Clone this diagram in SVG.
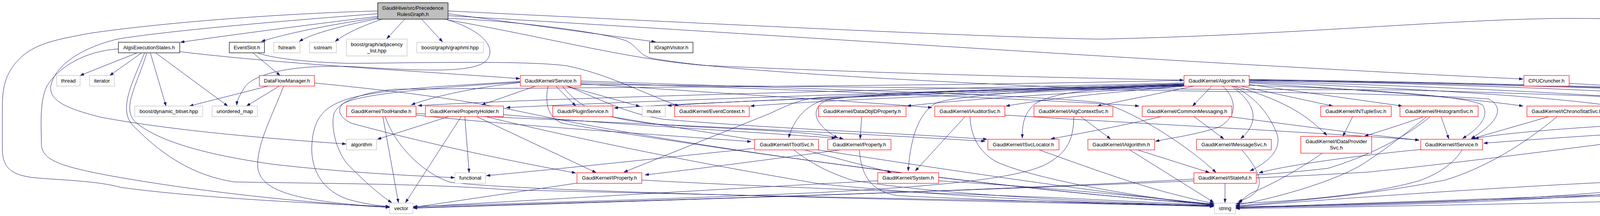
<svg xmlns="http://www.w3.org/2000/svg" width="5408" height="552" viewBox="0 0 5408 552">
<defs>
<marker id="a" viewBox="0 0 10 7" markerWidth="10" markerHeight="7" refX="10" refY="3.5" orient="auto" markerUnits="userSpaceOnUse"><path d="M0,0 L10,3.5 L0,7 z" fill="#191970" stroke="#191970" stroke-width="0.5"/></marker>
</defs>
<style>
.node rect{fill:#ffffff;stroke-width:1.2}
.r rect{stroke:#ff0000}
.g rect{stroke:#bfbfbf}
.k rect{stroke:#000000}
.m rect{fill:#bfbfbf;stroke:#000000}
text{font-family:"Liberation Sans",Arial,Helvetica,sans-serif;font-size:13.2px;text-anchor:middle;fill:#000000}
#edges path{fill:none;stroke:#191970;stroke-width:1;marker-end:url(#a)}
</style>
<rect x="0" y="0" width="5408" height="552" fill="#ffffff"/>
<g id="edges">
<path d="M967,42 C800,62 600,88 462,108"/>
<path d="M968,45 C880,58 750,80 669,106"/>
<path d="M970,47 C880,65 800,85 766,106"/>
<path d="M978,49 C930,65 885,85 858,106"/>
<path d="M1036,49 L990,99"/>
<path d="M1079,49 L1133,107"/>
<path d="M1147,35 L1678,107"/>
<path d="M1140,49 C1230,75 1275,120 1245,155 C1215,185 1100,183 900,170 C760,165 650,185 625,225 C613,245 607,255 606,269"/>
<path d="M967,35 C700,55 420,80 300,100 C200,125 140,170 130,220 C125,260 180,280 260,300 C450,335 700,355 886,368"/>
<path d="M967,28 C700,35 400,60 230,85 C150,100 90,110 50,150 C10,190 6,230 6,280 L6,385 C8,430 30,447 86,454 C150,460 250,462 310,479 C500,505 800,520 997,528"/>
<path d="M350,135.5 L205,193"/>
<path d="M362,135.5 L281,193"/>
<path d="M385,135.5 L425,271"/>
<path d="M399,135.5 L583,271"/>
<path d="M460,132 C650,155 900,172 1100,185 C1200,192 1280,197 1331,201"/>
<path d="M376,135.5 C345,230 310,280 350,315 C420,370 560,400 700,420 C850,437 1000,447 1164,454"/>
<path d="M303,125 C220,130 150,170 120,220 C100,260 106,330 106,370 C108,410 160,425 260,445 C500,490 800,520 997,530"/>
<path d="M370,135.5 C330,230 300,290 350,330 C420,400 500,450 600,465 C900,470 1100,470 1300,485 C1900,500 2700,515 3108,525"/>
<path d="M648,135.5 L717,193"/>
<path d="M660,135.5 C700,150 800,160 900,162 C1100,160 1350,155 1450,168 C1560,190 1650,240 1738,271"/>
<path d="M686,220 L485,271"/>
<path d="M715,220 L631,271"/>
<path d="M726,220 C700,290 655,370 660,430 C670,490 760,515 997,530"/>
<path d="M805,212 C1000,232 1160,248 1380,295 C1800,385 2700,500 3107,521"/>
<path d="M980,297.5 L1020,518"/>
<path d="M986,297.5 C1010,370 1080,440 1150,465 C1300,490 2500,515 3107,527"/>
<path d="M1065,294 C1300,320 1700,345 1923,362"/>
<path d="M1065,290 C1500,310 2100,335 2522,361"/>
<path d="M1150,297.5 L966,356"/>
<path d="M1181,297.5 L1038,518"/>
<path d="M1190,297.5 L1201,441"/>
<path d="M1219,297.5 L1526,441"/>
<path d="M1241,297.5 C1500,360 1800,420 2100,470 C2500,510 2900,522 3107,527"/>
<path d="M1289,293 C1600,320 1900,335 2139,353"/>
<path d="M1332,211 C1200,225 1100,250 1053,268"/>
<path d="M1371,220 L1233,268"/>
<path d="M1423,220 L1474,271"/>
<path d="M1451,220 L1638,272"/>
<path d="M1332,210 C1100,225 920,240 878,265 C862,280 868,300 900,315 C1100,370 1350,420 1474,442"/>
<path d="M1332,208 C1150,220 1000,225 900,250 C830,270 800,300 798,380 C798,440 830,490 893,510 C930,520 960,525 997,528"/>
<path d="M1451,220 C1530,250 1600,290 1700,305 C2000,330 2300,340 2527,356"/>
<path d="M1487,214 C1800,235 2200,260 2386,275"/>
<path d="M1487,211 C2000,228 2600,250 2916,271"/>
<path d="M1440,220 C1500,300 1600,315 1800,325 C2000,335 2100,340 2159,355"/>
<path d="M1403,220 C1395,260 1400,300 1440,315 C1700,360 2500,480 3107,523"/>
<path d="M1487,207 C2000,225 2600,240 2815,262 C2900,280 3050,380 3113,441"/>
<path d="M1487,216 C2500,225 3600,235 3812,253 C3850,275 3840,310 3766,354"/>
<path d="M1560,297.5 C2000,370 2700,480 3107,524"/>
<path d="M2206,297.5 L2202,355"/>
<path d="M2471,297.5 L2343,437"/>
<path d="M2483,297.5 C2485,340 2500,385 2550,413 C2650,460 2950,510 3107,523"/>
<path d="M2572,294 C2900,315 3400,340 3633,358"/>
<path d="M2766,297.5 L2843,355"/>
<path d="M2749,297.5 C2748,360 2730,390 2683,417 C2600,465 2300,480 2100,492 C1700,510 1300,520 1058,528"/>
<path d="M3056,297.5 L3133,355"/>
<path d="M2975,297.5 C2900,315 2800,335 2690,355"/>
<path d="M3142,297.5 C3300,318 3500,345 3633,358"/>
<path d="M3463,297.5 L3438,348"/>
<path d="M3689,297.5 L3709,355"/>
<path d="M3646,297.5 C3600,315 3550,330 3493,348"/>
<path d="M3653,297.5 C3600,340 3550,380 3483,423 C3400,470 3250,510 3164,524"/>
<path d="M3662,297.5 C3600,350 3500,400 3400,430 C3000,480 1500,515 1058,531"/>
<path d="M3967,297.5 L3767,355"/>
<path d="M3987,297.5 C3900,370 3800,430 3700,460 C3500,500 3300,515 3164,526"/>
<path d="M4612,296 C4300,310 3900,330 3775,354"/>
<path d="M4638,297.5 C4400,330 3800,410 3500,440 C2800,480 1600,515 1058,532"/>
<path d="M4694,297.5 C4650,340 4550,400 4450,440 C4200,510 3500,525 3164,528"/>
<path d="M4929,297.5 L4953,355"/>
<path d="M4832,296 C4500,320 4000,350 3798,366"/>
<path d="M4902,297.5 C4800,360 4650,420 4450,460 C4100,515 3500,527 3164,530"/>
<path d="M3637,382 C3500,395 3300,420 3223,442"/>
<path d="M3743,383 C3720,420 3680,445 3633,462 C3500,500 3300,515 3164,520"/>
<path d="M2660,383 C2750,415 2900,470 3000,495 C3050,508 3080,515 3108,520"/>
<path d="M2059,383 L2282,441"/>
<path d="M2032,383 C2080,420 2120,440 2180,460 C2400,500 2900,520 3107,526"/>
<path d="M1932,379 C1700,403 1450,430 1245,449"/>
<path d="M2151,383 C1950,410 1800,430 1651,447"/>
<path d="M2200,383 C2205,450 2230,490 2300,500 C2600,515 2900,522 3107,528"/>
<path d="M1477,468 L1058,530"/>
<path d="M1643,460 C1800,470 2300,490 2700,505 C2900,515 3000,520 3107,524"/>
<path d="M2403,462 C2700,480 2950,505 3107,522"/>
<path d="M2247,462 C1900,480 1400,510 1058,529"/>
<path d="M2912,383 L3096,441"/>
<path d="M2892,383 L3107,517"/>
<path d="M3179,383 C3220,430 3235,465 3215,490 C3200,505 3185,510 3170,515"/>
<path d="M3385,391.5 C3330,430 3260,470 3210,490 C3190,500 3180,510 3171,521"/>
<path d="M3136,468 L3136,518"/>
<path d="M4156,464 C3800,480 3400,510 3164,528"/>
<path d="M4927,466 C4500,485 3600,515 3164,531"/>
<path d="M5192,468 C4800,480 3800,510 3164,532"/>
<path d="M4017,213 C4300,230 4900,255 5051,269 C5110,300 5150,360 5140,430 C5120,480 5050,482 4500,505 C4000,520 3400,530 3164,533"/>
<path d="M1147,40 C2000,90 3000,160 3899,202"/>
<path d="M1147,28 C1600,50 2500,95 2815,100 C3300,90 3700,50 4000,47 C4300,46 4500,72 4690,102 C4800,130 4950,200 5010,260 C5040,290 5030,320 4985,353"/>
<path d="M1147,51 C1400,95 1600,150 1800,167 C2300,190 2800,200 3030,205"/>
<path d="M1147,47 C1300,52 1530,80 1600,103 C1630,115 1635,140 1665,148 C1800,175 2200,200 2700,222 C3000,230 3200,228 3600,230 C4000,242 4250,250 4312,260 C4360,275 4362,320 4345,370 C4330,400 4305,420 4280,441"/>
<path d="M3057,220 L2809,271"/>
<path d="M3102,220 L3053,271"/>
<path d="M3131,220 C3170,260 3165,300 3120,325 C3060,345 3000,352 2958,361"/>
<path d="M3153,220 C3200,255 3215,285 3205,315 C3200,330 3190,343 3176,354"/>
<path d="M3156,220 C3210,245 3250,290 3270,345 C3280,385 3245,415 3200,437"/>
<path d="M3160,220 C3300,260 3350,300 3397,346"/>
<path d="M3176,220 L3412,271"/>
<path d="M3198,216 L3590,271"/>
<path d="M3198,212 C3500,230 3750,250 3899,271"/>
<path d="M3198,210 C3600,225 3950,245 4130,271"/>
<path d="M3198,208 C3700,220 4200,245 4402,271"/>
<path d="M3198,206 C3800,215 4400,240 4604,271"/>
<path d="M3198,205 C3900,212 4600,235 4828,271"/>
<path d="M3198,204 C3800,215 4500,235 4950,255 C5030,265 5055,300 5052,340 C5050,380 5040,410 5025,441"/>
<path d="M3198,203 C3900,212 4800,240 5150,265 C5220,280 5260,360 5286,441"/>
<path d="M3198,218 C3500,227 3750,245 3795,268 C3810,290 3800,320 3744,354"/>
<path d="M3031,212 C2500,225 1500,245 1070,270"/>
<path d="M3031,214 C2500,230 1700,255 1296,275"/>
<path d="M3031,216 C2600,235 1900,255 1572,276"/>
<path d="M3031,218 C2600,235 2000,250 1709,270"/>
<path d="M3031,219 C2700,235 2200,250 1921,271"/>
<path d="M3031,220 C2800,235 2500,250 2322,271"/>
<path d="M3035,220 C2850,235 2700,250 2575,271"/>
<path d="M3031,215 C2600,225 2200,240 2110,255 C2060,270 2030,310 2019,352"/>
<path d="M3031,217 C2600,228 2200,240 2120,255 C2080,270 2070,310 2145,353"/>
<path d="M3031,218 C2800,225 2700,235 2650,265 C2620,290 2617,320 2617,353"/>
<path d="M3031,216 C2700,225 2450,245 2400,262 C2350,285 2330,360 2325,437"/>
<path d="M3031,219 C2600,230 2200,240 2090,250 C2040,256 2010,272 1971,290 L1597,440"/>
<path d="M3031,205 C2500,220 1300,225 1010,228 C940,235 870,255 855,290 C845,330 865,400 900,430 C940,470 975,500 1003,518"/>
</g>
<g id="n_main" class="node m"><rect x="967" y="7" width="180" height="42"/><text x="1057" y="24.5">GaudiHive/src/Precedence</text><text x="1057" y="40.5">RulesGraph.h</text></g>
<g id="n_algsexec" class="node k"><rect x="303" y="108" width="157" height="27"/><text x="381.5" y="125.5">AlgsExecutionStates.h</text></g>
<g id="n_eventslot" class="node k"><rect x="587" y="108" width="90" height="27"/><text x="632" y="125.5">EventSlot.h</text></g>
<g id="n_fstream" class="node g"><rect x="701" y="108" width="67" height="27"/><text x="734.5" y="125.5">fstream</text></g>
<g id="n_sstream" class="node g"><rect x="792" y="108" width="69" height="27"/><text x="826.5" y="125.5">sstream</text></g>
<g id="n_adjacency" class="node g"><rect x="887" y="100" width="155" height="43"/><text x="964.5" y="117.5">boost/graph/adjacency</text><text x="964.5" y="133.5">_list.hpp</text></g>
<g id="n_graphml" class="node g"><rect x="1067" y="108" width="170.5" height="27"/><text x="1152" y="125.5">boost/graph/graphml.hpp</text></g>
<g id="n_igraphvisitor" class="node k"><rect x="1663" y="108" width="111" height="27"/><text x="1718.5" y="125.5">IGraphVisitor.h</text></g>
<g id="n_thread" class="node g"><rect x="145" y="193" width="60" height="27"/><text x="175" y="210.5">thread</text></g>
<g id="n_iterator" class="node g"><rect x="229" y="193" width="64" height="27"/><text x="261" y="210.5">iterator</text></g>
<g id="n_dataflowmanager" class="node r"><rect x="664" y="193" width="141" height="27"/><text x="734.5" y="210.5">DataFlowManager.h</text></g>
<g id="n_service" class="node r"><rect x="1332" y="193" width="155" height="27"/><text x="1409.5" y="210.5">GaudiKernel/Service.h</text></g>
<g id="n_algorithm_h" class="node r"><rect x="3031" y="193" width="167" height="27"/><text x="3114.5" y="210.5">GaudiKernel/Algorithm.h</text></g>
<g id="n_cpucruncher" class="node r"><rect x="3901" y="193" width="116" height="27"/><text x="3959" y="210.5">CPUCruncher.h</text></g>
<g id="n_dynbitset" class="node g"><rect x="345" y="271" width="174" height="27"/><text x="432" y="288.5">boost/dynamic_bitset.hpp</text></g>
<g id="n_unorderedmap" class="node g"><rect x="543" y="271" width="116" height="27"/><text x="601" y="288.5">unordered_map</text></g>
<g id="n_toolhandle" class="node r"><rect x="887" y="271" width="178" height="27"/><text x="976" y="288.5">GaudiKernel/ToolHandle.h</text></g>
<g id="n_propertyholder" class="node r"><rect x="1089" y="271" width="200" height="27"/><text x="1189" y="288.5">GaudiKernel/PropertyHolder.h</text></g>
<g id="n_pluginservice" class="node r"><rect x="1415" y="271" width="154" height="27"/><text x="1492" y="288.5">Gaudi/PluginService.h</text></g>
<g id="n_mutex" class="node g"><rect x="1644" y="271" width="59" height="27"/><text x="1673.5" y="288.5">mutex</text></g>
<g id="n_eventcontext" class="node r"><rect x="1727" y="271" width="191" height="27"/><text x="1822.5" y="288.5">GaudiKernel/EventContext.h</text></g>
<g id="n_dataobjidproperty" class="node r"><rect x="2095" y="271" width="224.5" height="27"/><text x="2207" y="288.5">GaudiKernel/DataObjIDProperty.h</text></g>
<g id="n_iauditorsvc" class="node r"><rect x="2393" y="271" width="179.5" height="27"/><text x="2483" y="288.5">GaudiKernel/IAuditorSvc.h</text></g>
<g id="n_ialgcontextsvc" class="node r"><rect x="2647" y="271" width="202" height="27"/><text x="2748" y="288.5">GaudiKernel/IAlgContextSvc.h</text></g>
<g id="n_commonmessaging" class="node r"><rect x="2924" y="271" width="229.5" height="27"/><text x="3039" y="288.5">GaudiKernel/CommonMessaging.h</text></g>
<g id="n_intuplesvc" class="node r"><rect x="3381" y="271" width="180.5" height="27"/><text x="3471" y="288.5">GaudiKernel/INTupleSvc.h</text></g>
<g id="n_ihistogramsvc" class="node r"><rect x="3584" y="271" width="200" height="27"/><text x="3684" y="288.5">GaudiKernel/IHistogramSvc.h</text></g>
<g id="n_ichronostatsvc" class="node r"><rect x="3909" y="271" width="204" height="27"/><text x="4011" y="288.5">GaudiKernel/IChronoStatSvc.h</text></g>
<g id="n_iexceptionsvc" class="node r"><rect x="4137" y="271" width="196.5" height="27"/><text x="4235" y="288.5">GaudiKernel/IExceptionSvc.h</text></g>
<g id="n_datahandle" class="node r"><rect x="4408" y="271" width="180" height="27"/><text x="4498" y="288.5">GaudiKernel/DataHandle.h</text></g>
<g id="n_irndmgensvc" class="node r"><rect x="4612" y="271" width="197" height="27"/><text x="4710.5" y="288.5">GaudiKernel/IRndmGenSvc.h</text></g>
<g id="n_itimelinesvc" class="node r"><rect x="4832" y="271" width="184.5" height="27"/><text x="4924" y="288.5">GaudiKernel/ITimelineSvc.h</text></g>
<g id="n_algorithm" class="node g"><rect x="887" y="356" width="77" height="27"/><text x="925.5" y="373.5">algorithm</text></g>
<g id="n_itoolsvc" class="node r"><rect x="1932" y="356" width="163.5" height="27"/><text x="2014" y="373.5">GaudiKernel/IToolSvc.h</text></g>
<g id="n_property" class="node r"><rect x="2119" y="356" width="162" height="27"/><text x="2200" y="373.5">GaudiKernel/Property.h</text></g>
<g id="n_isvclocator" class="node r"><rect x="2529" y="356" width="182" height="27"/><text x="2620" y="373.5">GaudiKernel/ISvcLocator.h</text></g>
<g id="n_ialgorithm" class="node r"><rect x="2785" y="356" width="171" height="27"/><text x="2870.5" y="373.5">GaudiKernel/IAlgorithm.h</text></g>
<g id="n_imessagesvc" class="node r"><rect x="3063" y="356" width="191.5" height="27"/><text x="3159" y="373.5">GaudiKernel/IMessageSvc.h</text></g>
<g id="n_idataprovidersvc" class="node r"><rect x="3330" y="348.5" width="181.5" height="43"/><text x="3421" y="366">GaudiKernel/IDataProvider</text><text x="3421" y="382">Svc.h</text></g>
<g id="n_iservice" class="node r"><rect x="3637" y="356" width="158" height="27"/><text x="3716" y="373.5">GaudiKernel/IService.h</text></g>
<g id="n_chrono" class="node g"><rect x="4929" y="356" width="62" height="27"/><text x="4960" y="373.5">chrono</text></g>
<g id="n_functional" class="node g"><rect x="1164.5" y="441.5" width="78.5" height="27"/><text x="1204" y="459">functional</text></g>
<g id="n_iproperty" class="node r"><rect x="1477" y="441.5" width="166" height="27"/><text x="1560" y="459">GaudiKernel/IProperty.h</text></g>
<g id="n_system" class="node r"><rect x="2247" y="441.5" width="156" height="27"/><text x="2325" y="459">GaudiKernel/System.h</text></g>
<g id="n_istateful" class="node r"><rect x="3056.5" y="441.5" width="159.5" height="27"/><text x="3136" y="459">GaudiKernel/IStateful.h</text></g>
<g id="n_ihivewhiteboard" class="node r"><rect x="4156" y="441.5" width="211" height="27"/><text x="4261.5" y="459">GaudiKernel/IHiveWhiteBoard.h</text></g>
<g id="n_imonitorsvc" class="node r"><rect x="4927" y="441.5" width="180" height="27"/><text x="5017" y="459">GaudiKernel/IMonitorSvc.h</text></g>
<g id="n_iconversionsvc" class="node r"><rect x="5192" y="441.5" width="202" height="27"/><text x="5293" y="459">GaudiKernel/IConversionSvc.h</text></g>
<g id="n_vector" class="node g"><rect x="997.5" y="519" width="59.5" height="27"/><text x="1027" y="536.5">vector</text></g>
<g id="n_string" class="node g"><rect x="3109" y="519" width="54" height="27"/><text x="3136" y="536.5">string</text></g>
</svg>
